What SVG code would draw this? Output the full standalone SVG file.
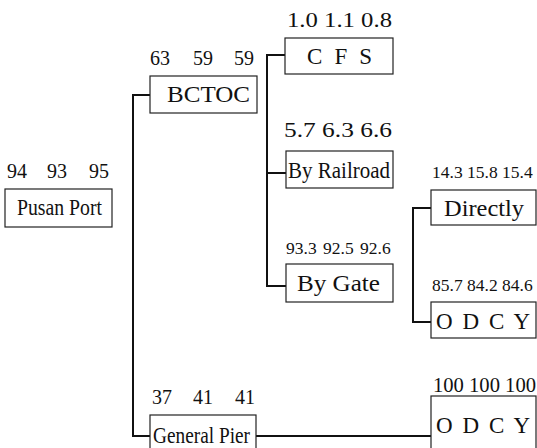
<svg xmlns="http://www.w3.org/2000/svg" width="537" height="448" viewBox="0 0 537 448">
<style>
.box{fill:#fff;stroke:#222;stroke-width:1.2}
.t{font-family:"Liberation Serif","Times New Roman",serif;font-size:23px;fill:#111}
.n{font-family:"Liberation Serif","Times New Roman",serif;font-size:20px;fill:#111}
.d{font-family:"Liberation Serif","Times New Roman",serif;font-size:17.5px;fill:#111}
.c{fill:none;stroke:#111;stroke-width:2}
</style>
<rect width="537" height="448" fill="#fff"/>
<g id="connectors">
<path class="c" d="M150 95 H133 V436 H150"/>
<path class="c" d="M256 436 H431"/>
<path class="c" d="M285 55 H267 V286 H286 M267 173 H286"/>
<path class="c" d="M431 208 H413 V322 H431"/>
</g>
<g id="pusan">
<text class="n" y="178"><tspan x="7">94</tspan><tspan x="47">93</tspan><tspan x="89">95</tspan></text>
<rect class="box" x="5" y="189" width="107" height="38"/>
<text class="t" x="17" y="215" textLength="85" lengthAdjust="spacingAndGlyphs">Pusan  Port</text>
</g>
<g id="bctoc">
<text class="n" y="65"><tspan x="150">63</tspan><tspan x="193">59</tspan><tspan x="234">59</tspan></text>
<rect class="box" x="150" y="76" width="107" height="37"/>
<text class="t" x="167" y="102" textLength="83" lengthAdjust="spacingAndGlyphs">BCTOC</text>
</g>
<g id="generalpier">
<text class="n" y="404"><tspan x="152">37</tspan><tspan x="193">41</tspan><tspan x="235">41</tspan></text>
<rect class="box" x="150" y="415" width="106" height="40"/>
<text class="t" x="153" y="443" textLength="97" lengthAdjust="spacingAndGlyphs">General Pier</text>
</g>
<g id="cfs">
<text class="n" x="287" y="27" textLength="105" lengthAdjust="spacingAndGlyphs">1.0 1.1 0.8</text>
<rect class="box" x="285" y="38" width="108" height="36"/>
<text class="t" x="307" y="64" textLength="65" lengthAdjust="spacing">C F S</text>
</g>
<g id="railroad">
<text class="n" x="284" y="137" textLength="108" lengthAdjust="spacingAndGlyphs">5.7 6.3 6.6</text>
<rect class="box" x="286" y="151" width="107" height="37"/>
<text class="t" x="288" y="178" textLength="102" lengthAdjust="spacingAndGlyphs">By  Railroad</text>
</g>
<g id="bygate">
<text class="d" y="254"><tspan x="286">93.3</tspan><tspan x="323">92.5</tspan><tspan x="360">92.6</tspan></text>
<rect class="box" x="286" y="264" width="107" height="38"/>
<text class="t" x="297" y="291" textLength="83" lengthAdjust="spacingAndGlyphs">By  Gate</text>
</g>
<g id="directly">
<text class="d" y="178"><tspan x="432">14.3</tspan><tspan x="467">15.8</tspan><tspan x="502">15.4</tspan></text>
<rect class="box" x="431" y="190" width="105" height="35"/>
<text class="t" x="444" y="216" textLength="80" lengthAdjust="spacingAndGlyphs">Directly</text>
</g>
<g id="odcy1">
<text class="d" y="291"><tspan x="432">85.7</tspan><tspan x="467">84.2</tspan><tspan x="502">84.6</tspan></text>
<rect class="box" x="431" y="302" width="105" height="36"/>
<text class="t" x="436" y="329" textLength="94" lengthAdjust="spacing">O D C Y</text>
</g>
<g id="odcy2">
<text class="n" x="433" y="392" textLength="103" lengthAdjust="spacingAndGlyphs">100 100 100</text>
<rect class="box" x="431" y="396" width="105" height="60"/>
<text class="t" x="436" y="433" textLength="94" lengthAdjust="spacing">O D C Y</text>
</g>
</svg>
